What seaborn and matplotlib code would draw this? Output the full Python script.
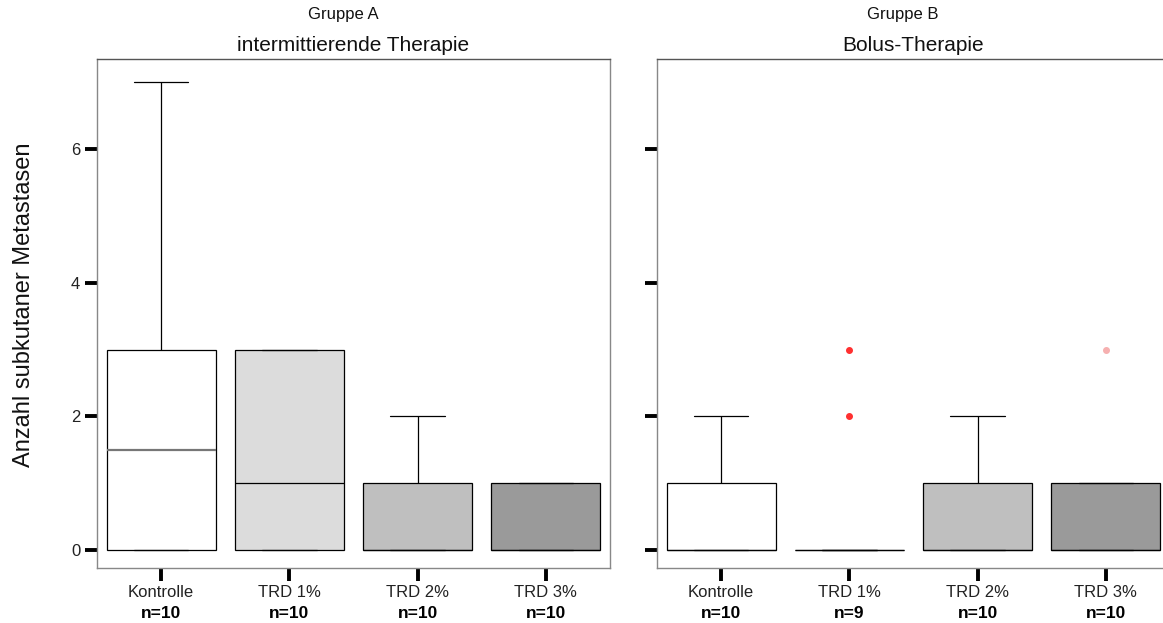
import pandas as pd
import matplotlib
matplotlib.use('Agg')
import matplotlib.pyplot as plt
import seaborn as sns

# --- data (counts of subcutaneous metastases per animal) ---
categories = ['Kontrolle', 'TRD 1%', 'TRD 2%', 'TRD 3%']
box_colors = ['#ffffff', '#dcdcdc', '#bfbfbf', '#9a9a9a']

# Gruppe A - intermittierende Therapie
a_kontrolle = [0, 0, 0, 0, 1, 2, 3, 3, 4, 7]
a_trd1 = [0, 0, 0, 0, 1, 1, 3, 3, 3, 3]
a_trd2 = [0, 0, 0, 0, 0, 0, 1, 1, 1, 2]
a_trd3 = [0, 0, 0, 0, 0, 0, 1, 1, 1, 1]

# Gruppe B - Bolus-Therapie
b_kontrolle = [0, 0, 0, 0, 0, 0, 1, 1, 2, 2]
b_trd1 = [0, 0, 0, 0, 0, 0, 0, 2, 3]
b_trd2 = [0, 0, 0, 0, 0, 0, 1, 1, 1, 2]
b_trd3 = [0, 0, 0, 0, 0, 0, 1, 1, 1, 3]

y_ticks = [0, 2, 4, 6]


def to_long(series_list):
    rows = []
    for cat, vals in zip(categories, series_list):
        for v in vals:
            rows.append({'group': cat, 'value': v})
    return pd.DataFrame(rows)


df_a = to_long([a_kontrolle, a_trd1, a_trd2, a_trd3])
df_b = to_long([b_kontrolle, b_trd1, b_trd2, b_trd3])

sns.set_style('white')
plt.rcParams['font.family'] = ['Liberation Sans', 'DejaVu Sans']

fig = plt.figure(figsize=(11.63, 6.23), dpi=100)
W, H = 1163, 623
ax_a = fig.add_axes([97 / W, 55 / H, 513 / W, 509 / H])
ax_b = fig.add_axes([657 / W, 55 / H, 513 / W, 509 / H])

panels = [
    (ax_a, df_a, 'Gruppe A', 'intermittierende Therapie'),
    (ax_b, df_b, 'Gruppe B', 'Bolus-Therapie'),
]

for ax, df, group_title, therapy in panels:
    sns.boxplot(
        data=df, x='group', y='value', hue='group',
        order=categories, hue_order=categories, palette=box_colors,
        legend=False, width=0.85, linecolor='black', linewidth=0.9,
        whis=1.5, ax=ax,
        flierprops=dict(marker='o', markerfacecolor='#ff3030',
                        markeredgecolor='#ff3030', markersize=4),
    )
    ax.set_xlim(-0.5, 3.5)
    ax.set_ylim(-0.27, 7.35)
    ax.set_yticks(y_ticks)
    ax.set_xticks(range(len(categories)))
    ax.set_xticklabels(categories)
    ax.set_xlabel('')
    ax.set_ylabel('')
    ax.tick_params(axis='both', bottom=True, left=True, length=9, width=2.8,
                   color='black', labelsize=12, labelcolor='#222222',
                   pad=3, direction='out')
    for sp in ax.spines.values():
        sp.set_color('#888888')
        sp.set_linewidth(1.0)
    ax.spines['top'].set_color('#555555')

    ax.annotate(therapy, xy=(0.5, 1.0), xycoords='axes fraction',
                xytext=(0, 10), textcoords='offset points',
                ha='center', va='center', fontsize=15, color='#111111')
    ax.annotate(group_title, xy=(0.48, 1.0), xycoords='axes fraction',
                xytext=(0, 32), textcoords='offset points',
                ha='center', va='center', fontsize=12, color='#111111')

# sample sizes below the category labels
n_a = [len(a_kontrolle), len(a_trd1), len(a_trd2), len(a_trd3)]
n_b = [len(b_kontrolle), len(b_trd1), len(b_trd2), len(b_trd3)]
for ax, ns in [(ax_a, n_a), (ax_b, n_b)]:
    for i, n in enumerate(ns):
        ax.annotate(f'n={n}', xy=(i, 0), xycoords=('data', 'axes fraction'),
                    xytext=(0, -33), textcoords='offset points',
                    ha='center', va='center', fontsize=12.5,
                    fontweight='bold', color='black')

ax_b.tick_params(axis='y', labelleft=False)

# median of the control box in Gruppe A is drawn grey in the original
medians_a = [ln for ln in ax_a.lines
             if ln.get_marker() in ('None', None, '') and len(ln.get_xdata()) == 2
             and ln.get_ydata()[0] == ln.get_ydata()[1]]
for ln in medians_a:
    if ln.get_ydata()[0] == 1.5:
        ln.set_color('#777777')
        ln.set_linewidth(1.6)

# the single outlier of TRD 3% in Gruppe B is drawn pale in the original
fliers = [ln for ln in ax_b.lines
          if ln.get_marker() not in ('None', None, '') and len(ln.get_xdata()) > 0]
if fliers:
    fliers[-1].set_markerfacecolor('#f6b0b0')
    fliers[-1].set_markeredgecolor('#f6b0b0')

fig.text(24 / W, 1 - 305 / H, 'Anzahl subkutaner Metastasen', rotation=90,
         ha='center', va='center', fontsize=17, color='#111111')

fig.savefig('out.png', dpi=100)
